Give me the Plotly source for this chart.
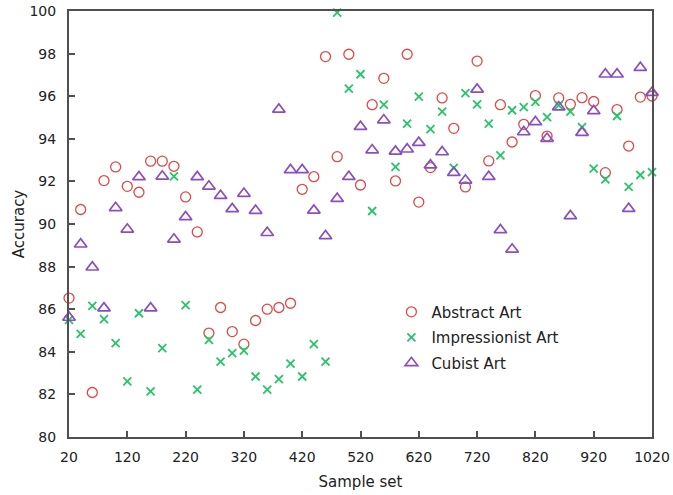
import plotly.graph_objects as go

sample_set = list(range(20, 1021, 20))

abstract_art = [86.52, 90.68, 82.09, 92.04, 92.68, 91.77, 91.49, 92.95, 92.95, 92.71,
                91.27, 89.63, 84.88, 86.08, 84.95, 84.36, 85.47, 86.00, 86.08, 86.28,
                91.63, 92.22, 97.86, 93.16, 97.97, 91.83, 95.60, 96.84, 92.02, 97.97,
                91.03, 92.65, 95.92, 94.49, 91.74, 97.65, 92.96, 95.60, 93.85, 94.68,
                96.03, 94.13, 95.92, 95.62, 95.93, 95.75, 92.41, 95.37, 93.66, 95.96,
                96.01]

impressionist_art = [85.50, 84.84, 86.16, 85.53, 84.41, 82.61, 85.81, 82.14, 84.17, 92.24,
                     86.19, 82.22, 84.56, 83.54, 83.94, 84.05, 82.84, 82.22, 82.72, 83.44,
                     82.84, 84.36, 83.54, 99.92, 96.36, 97.03, 90.61, 95.60, 92.68, 94.71,
                     95.98, 94.45, 95.28, 92.63, 96.14, 95.62, 94.71, 93.22, 95.34, 95.49,
                     95.73, 95.02, 95.57, 95.28, 94.55, 92.60, 92.10, 95.07, 91.74, 92.30,
                     92.44]

cubist_art = [85.61, 89.05, 87.97, 86.05, 90.76, 89.75, 92.21, 86.05, 92.24, 89.28,
              90.33, 92.21, 91.77, 91.33, 90.71, 91.43, 90.63, 89.59, 95.38, 92.54,
              92.54, 90.64, 89.44, 91.19, 92.22, 94.57, 93.47, 94.88, 93.41, 93.51,
              93.82, 92.76, 93.38, 92.41, 92.05, 96.32, 92.22, 89.72, 88.81, 94.32,
              94.79, 94.01, 95.49, 90.38, 94.29, 95.31, 97.03, 97.03, 90.72, 97.34,
              96.17]

x_ticks = list(range(20, 1021, 100))
y_ticks = list(range(80, 101, 2))

RED = "#e04848"
GREEN = "#27c46a"
PURPLE = "#8a4fbf"
AXIS = "#505050"
TEXT = "#222222"
FONT = "DejaVu Sans, Verdana, sans-serif"

fig = go.Figure()
fig.add_trace(go.Scatter(
    x=sample_set, y=abstract_art, mode="markers", name="Abstract Art", legendgroup="a",
    marker=dict(symbol="circle-open", size=10, color=RED, line=dict(width=1.3, color=RED)),
    cliponaxis=False))
fig.add_trace(go.Scatter(
    x=sample_set, y=impressionist_art, mode="markers", name="Impressionist Art", legendgroup="b",
    marker=dict(symbol="x-thin-open", size=8, color=GREEN, line=dict(width=1.8, color=GREEN)),
    cliponaxis=False))
fig.add_trace(go.Scatter(
    x=sample_set, y=cubist_art, mode="markers", name="Cubist Art", legendgroup="c",
    marker=dict(symbol="triangle-up-open", size=11, color=PURPLE, line=dict(width=1.7, color=PURPLE)),
    cliponaxis=False))

fig.update_layout(
    width=673, height=495,
    margin=dict(l=69, r=21, t=11, b=58),
    paper_bgcolor="white", plot_bgcolor="white",
    font=dict(family=FONT, size=14, color=TEXT),
    showlegend=True,
    legend=dict(x=0.553, y=0.332, xanchor="left", yanchor="top",
                bgcolor="rgba(0,0,0,0)", font=dict(size=15, color=TEXT),
                itemwidth=30, tracegroupgap=3),
    xaxis=dict(
        range=[20, 1020], tickmode="array", tickvals=x_ticks,
        ticktext=[str(v) for v in x_ticks],
        ticks="inside", ticklen=6, tickwidth=1.5, tickcolor=AXIS,
        showline=True, linecolor=AXIS, linewidth=2, mirror=True,
        showgrid=False, zeroline=False, automargin=False,
        tickfont=dict(size=14, color=TEXT),
        title=dict(text="Sample set", font=dict(size=15, color=TEXT), standoff=13),
        ticklabelstandoff=6,
    ),
    yaxis=dict(
        range=[80, 100], tickmode="array", tickvals=y_ticks,
        ticktext=[str(v) for v in y_ticks],
        ticks="inside", ticklen=6, tickwidth=1.5, tickcolor=AXIS,
        showline=True, linecolor=AXIS, linewidth=2, mirror=True,
        showgrid=False, zeroline=False, automargin=False,
        tickfont=dict(size=14, color=TEXT),
        title=dict(text="Accuracy", font=dict(size=15, color=TEXT), standoff=1),
        ticklabelstandoff=8,
    ),
)

fig.write_html("out.html")
